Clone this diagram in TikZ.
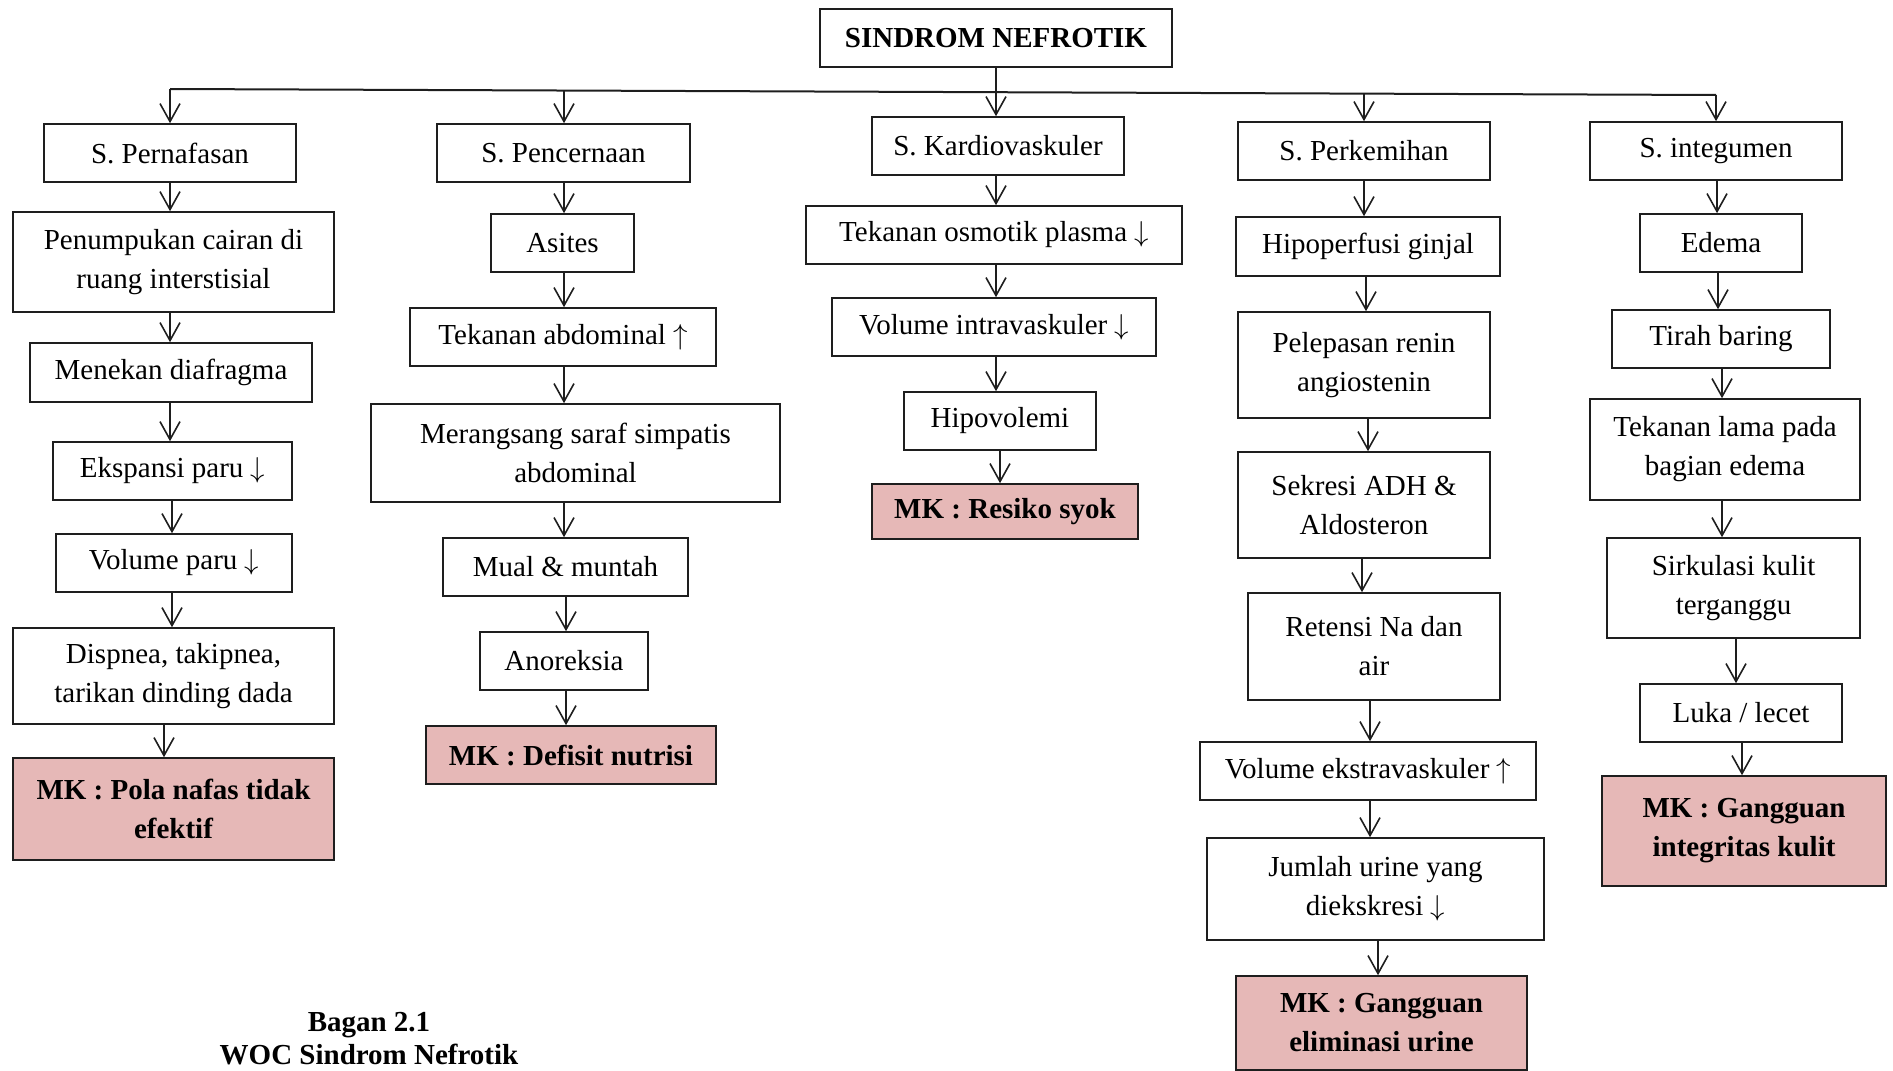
\documentclass[tikz,border=0pt]{standalone}
\usepackage{fontspec}
\setmainfont{Liberation Serif}
\usetikzlibrary{arrows.meta}
\definecolor{mkpink}{RGB}{230,184,183}
\definecolor{edge}{RGB}{30,30,30}
\newcommand\arr[3]{\coordinate (tmpx) at (#3,0); \draw[arr] (#1.south -| tmpx) -- (#2.north -| tmpx);}
\newcommand\dn{\ $\downarrow$}
\newcommand\up{\ $\uparrow$}
\begin{document}
\begin{tikzpicture}[x=0.5pt,y=-0.5pt,
  box/.style={draw=edge,line width=0.8pt,fill=white,inner sep=0pt,align=center,
    font=\fontsize{14.5}{19.5}\selectfont},
  mk/.style={box,fill=mkpink,font=\fontsize{14.5}{19.5}\selectfont\bfseries},
  arr/.style={draw=edge,line width=0.8pt,-{Straight Barb[length=9pt,width=10pt,line width=0.8pt]}},
  bus/.style={draw=edge,line width=1pt}]
\useasboundingbox (0,0) rectangle (1893,1070);
\newcommand\bx[6]{\node[#1,minimum width=#4*0.5pt,minimum height=#5*0.5pt] (#2) at (#3) {#6};}
% title
\bx{box,font=\fontsize{14.5}{19.5}\selectfont\bfseries}{top}{996,38}{352}{58}{SINDROM NEFROTIK}
% column 1
\bx{box}{p1}{170,153}{252}{58}{S. Pernafasan}
\bx{box}{p2}{173.5,262}{321}{100}{Penumpukan cairan di\\ruang interstisial}
\bx{box}{p3}{171,372.5}{282}{59}{Menekan diafragma}
\bx{box}{p4}{172.5,471}{239}{58}{Ekspansi paru\dn}
\bx{box}{p5}{174,563}{236}{58}{Volume paru\dn}
\bx{box}{p6}{173.5,676}{321}{96}{Dispnea, takipnea,\\tarikan dinding dada}
\bx{mk}{p7}{173.5,809}{321}{102}{MK : Pola nafas tidak\\efektif}
% column 2
\bx{box}{c1}{563.5,153}{253}{58}{S. Pencernaan}
\bx{box}{c2}{562.5,243}{143}{58}{Asites}
\bx{box}{c3}{563,337}{306}{58}{Tekanan abdominal\up}
\bx{box}{c4}{575.5,453}{409}{98}{Merangsang saraf simpatis\\abdominal}
\bx{box}{c5}{565.5,567}{245}{58}{Mual \& muntah}
\bx{box}{c6}{564,661}{168}{58}{Anoreksia}
\bx{mk}{c7}{571,755}{290}{58}{MK : Defisit nutrisi}
% column 3
\bx{box}{k1}{998,146}{252}{58}{S. Kardiovaskuler}
\bx{box}{k2}{994,235}{376}{58}{Tekanan osmotik plasma\dn}
\bx{box}{k3}{994,327}{324}{58}{Volume intravaskuler\dn}
\bx{box}{k4}{1000,421}{192}{58}{Hipovolemi}
\bx{mk}{k5}{1005,511.5}{266}{55}{MK : Resiko syok}
% column 4
\bx{box}{r1}{1364,151}{252}{58}{S. Perkemihan}
\bx{box}{r2}{1368,246.5}{264}{59}{Hipoperfusi ginjal}
\bx{box}{r3}{1364,365}{252}{106}{Pelepasan renin\\angiostenin}
\bx{box}{r4}{1364,505}{252}{106}{Sekresi ADH \&\\Aldosteron}
\bx{box}{r5}{1374,646.5}{252}{107}{Retensi Na dan\\air}
\bx{box}{r6}{1368,771}{336}{58}{Volume ekstravaskuler\up}
\bx{box}{r7}{1375.5,889}{337}{102}{Jumlah urine yang\\diekskresi\dn}
\bx{mk}{r8}{1381.5,1023}{291}{94}{MK : Gangguan\\eliminasi urine}
% column 5
\bx{box}{i1}{1716,151}{252}{58}{S. integumen}
\bx{box}{i2}{1721,243}{162}{58}{Edema}
\bx{box}{i3}{1721,339}{218}{58}{Tirah baring}
\bx{box}{i4}{1725,449.5}{270}{101}{Tekanan lama pada\\bagian edema}
\bx{box}{i5}{1733.5,588}{253}{100}{Sirkulasi kulit\\terganggu}
\bx{box}{i6}{1741,713}{202}{58}{Luka / lecet}
\bx{mk}{i7}{1744,831}{284}{110}{MK : Gangguan\\integritas kulit}
% bus
\coordinate (busL) at (170,89);
\coordinate (busR) at (1716,95);
\coordinate (b2) at (564,90.5);
\coordinate (b4) at (1364,93.6);
\draw[bus] (busL) -- (busR);
\draw[arr] (busL) -- (p1.north -| busL);
\draw[arr] (b2) -- (c1.north -| b2);
\draw[arr] (b4) -- (r1.north -| b4);
\draw[arr] (busR) -- (i1.north -| busR);
\arr{top}{k1}{996}
% column arrows
\arr{p1}{p2}{170}
\arr{p2}{p3}{170}
\arr{p3}{p4}{170}
\arr{p4}{p5}{172}
\arr{p5}{p6}{172}
\arr{p6}{p7}{164}
\arr{c1}{c2}{564}
\arr{c2}{c3}{564}
\arr{c3}{c4}{564}
\arr{c4}{c5}{564}
\arr{c5}{c6}{566}
\arr{c6}{c7}{566}
\arr{k1}{k2}{996}
\arr{k2}{k3}{996}
\arr{k3}{k4}{996}
\arr{k4}{k5}{1000}
\arr{r1}{r2}{1364}
\arr{r2}{r3}{1366}
\arr{r3}{r4}{1368}
\arr{r4}{r5}{1362}
\arr{r5}{r6}{1370}
\arr{r6}{r7}{1370}
\arr{r7}{r8}{1378}
\arr{i1}{i2}{1717}
\arr{i2}{i3}{1718}
\arr{i3}{i4}{1722}
\arr{i4}{i5}{1722}
\arr{i5}{i6}{1736}
\arr{i6}{i7}{1742}
% caption
\node[anchor=base,font=\fontsize{14.5}{19.5}\selectfont\bfseries] (cap1) at (369,1031) {Bagan 2.1};
\node[anchor=base,font=\fontsize{14.5}{19.5}\selectfont\bfseries] (cap2) at (369,1064) {WOC Sindrom Nefrotik};
\end{tikzpicture}
\end{document}
